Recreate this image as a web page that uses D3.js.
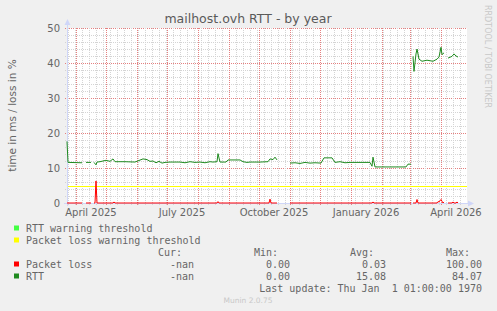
<!DOCTYPE html>
<html>
<head>
<meta charset="utf-8">
<style>
  body { margin: 0; background: #f0f0f0; }
  svg { display: block; }
</style>
</head>
<body>
<svg id="chart" width="497" height="311"></svg>
<script src="https://d3js.org/d3.v7.min.js"></script>
<script>
// time range shown (400 days, munin "by year")
const timeDomain = ["2025-03-23", "2026-04-27"];
const yDomain = [0, 50];
const yTicks = [0, 10, 20, 30, 40, 50];
const monthLabels = ["2025-04-16", "2025-07-16", "2025-10-16", "2026-01-16", "2026-04-16"];
const monthLabelText = ["April 2025", "July 2025", "October 2025", "January 2026", "April 2026"];

// RTT in ms (null = no data)
const rttDates = ["2025-03-23","2025-03-24","2025-04-07","2025-04-08","2025-04-11","2025-04-16","2025-04-17",
  "2025-04-19","2025-04-21","2025-04-22","2025-04-25","2025-05-01","2025-05-05","2025-05-08","2025-05-10",
  "2025-05-20","2025-05-30","2025-06-07","2025-06-11","2025-06-14","2025-06-17","2025-06-20","2025-06-23",
  "2025-06-26","2025-06-29","2025-07-04","2025-07-14","2025-07-19","2025-07-24","2025-07-29","2025-08-03",
  "2025-08-08","2025-08-13","2025-08-16","2025-08-20","2025-08-21","2025-08-23","2025-08-29","2025-08-31",
  "2025-09-12","2025-09-15","2025-09-19","2025-09-22","2025-10-02","2025-10-10","2025-10-12","2025-10-15",
  "2025-10-17","2025-10-19","2025-10-20","2025-11-01","2025-11-06","2025-11-11","2025-11-16","2025-11-21",
  "2025-11-26","2025-12-02","2025-12-05","2025-12-13","2025-12-16","2025-12-21","2025-12-26","2025-12-31",
  "2026-01-10","2026-01-20","2026-01-22","2026-01-23","2026-01-25","2026-01-27","2026-02-25","2026-02-27",
  "2026-03-02","2026-03-03","2026-03-04","2026-03-05","2026-03-07","2026-03-08","2026-03-10","2026-03-13",
  "2026-03-18","2026-03-24","2026-03-28","2026-03-30","2026-04-01","2026-04-02","2026-04-04","2026-04-05",
  "2026-04-08","2026-04-12","2026-04-14","2026-04-16","2026-04-18"];
const rttValues = [17.6,11.6,11.5,null,11.6,11.6,null,
  11.6,10.9,11.7,11.8,12.2,11.9,12.6,11.8,
  11.8,11.7,12.6,12.4,11.9,12.0,11.5,11.9,
  11.4,11.6,11.7,11.7,11.5,11.8,11.6,11.7,
  11.5,11.8,11.7,11.8,14.1,11.7,11.7,12.3,
  12.3,11.8,11.6,11.7,11.7,11.8,12.6,12.4,
  13.1,12.3,null,11.4,11.5,11.3,11.6,11.4,
  11.5,11.4,12.9,12.9,11.6,11.8,11.5,11.6,
  11.6,11.6,10.5,13.1,10.3,10.3,10.3,11.1,
  11.1,null,41.9,37.6,42.6,44.0,41.1,40.5,
  40.8,40.5,41.1,41.7,44.5,42.4,42.9,null,
  41.4,41.9,42.6,42.0,41.7];

// packet loss in %
const lossDates = ["2025-03-23","2025-04-07","2025-04-08","2025-04-11","2025-04-16","2025-04-17","2025-04-19",
  "2025-04-20","2025-04-21","2025-04-22","2025-05-08","2025-05-09","2025-05-10","2025-08-20","2025-08-21",
  "2025-08-22","2025-10-11","2025-10-12","2025-10-13","2025-10-19","2025-10-20","2025-11-01","2026-01-22",
  "2026-01-23","2026-01-24","2026-03-02","2026-03-03","2026-03-04","2026-03-07","2026-03-08","2026-03-09",
  "2026-03-28","2026-03-29","2026-03-30","2026-04-01","2026-04-02","2026-04-03","2026-04-04","2026-04-05",
  "2026-04-08","2026-04-12","2026-04-13","2026-04-14","2026-04-16","2026-04-17","2026-04-18"];
const lossValues = [0,0,null,0,0,null,0,
  0,6.3,0,0,0.3,0,0,0.4,
  0,0,1.1,0,0,null,0,0,
  0.3,0,0,null,0,0,1.0,0,
  0,0.4,0.3,1.0,0.5,0,0.3,null,
  0,0,0.3,0,0,0.3,0];

const lossThreshold = 5;

const legendNames = ["RTT warning threshold", "Packet loss warning threshold"];
const legendColors = ["#44ff44", "#ffff00"];
const statHeaders = ["Cur:", "Min:", "Avg:", "Max:"];
const seriesNames = ["Packet loss", "RTT"];
const seriesColors = ["#ff0000", "#1f8a1f"];
const curValues = ["-nan", "-nan"];
const minValues = ["0.00", "0.00"];
const avgValues = ["0.03", "15.08"];
const maxValues = ["100.00", "84.07"];

const svg = d3.select("#chart");
const parse = d3.utcParse("%Y-%m-%d");
const pLeft = 67, pRight = 467, pTop = 28, pBottom = 203;
const x = d3.scaleUtc().domain(timeDomain.map(parse)).range([pLeft, pRight]);
const y = d3.scaleLinear().domain(yDomain).range([pBottom, pTop]);
const fontColor = "#666666";
const axisColor = "#cfd6f8";
const minorColor = "#d4d4d4";
const majorColor = "#e58080";

svg.append("rect").attr("width", 497).attr("height", 311).attr("fill", "#f0f0f0");
svg.append("rect").attr("x", pLeft).attr("y", pTop).attr("width", pRight - pLeft).attr("height", pBottom - pTop)
  .attr("fill", "#ffffff");

// grid
const g = svg.append("g");
const px = v => Math.round(v) + 0.5;
const minorY = d3.range(yDomain[0], yDomain[1] + 1, 2).filter(v => v % 10 !== 0);
g.selectAll(".hminor").data(minorY).enter().append("line")
  .attr("x1", pLeft - 2).attr("x2", pRight)
  .attr("y1", d => px(y(d))).attr("y2", d => px(y(d)))
  .attr("stroke", minorColor).attr("stroke-dasharray", "1,1");
g.selectAll(".hmajor").data(yTicks).enter().append("line")
  .attr("x1", pLeft - 2).attr("x2", pRight)
  .attr("y1", d => px(y(d))).attr("y2", d => px(y(d)))
  .attr("stroke", majorColor).attr("stroke-dasharray", "1,1");

const [t0, t1] = x.domain();
const months = d3.utcMonth.range(t0, t1);
const weeks = d3.utcMonday.range(t0, t1).filter(d => d.getUTCDate() !== 1);
g.selectAll(".vminor").data(weeks).enter().append("line")
  .attr("x1", d => px(x(d))).attr("x2", d => px(x(d)))
  .attr("y1", pTop).attr("y2", pBottom + 2)
  .attr("stroke", minorColor).attr("stroke-dasharray", "1,1");
g.selectAll(".vmajor").data(months).enter().append("line")
  .attr("x1", d => px(x(d))).attr("x2", d => px(x(d)))
  .attr("y1", pTop).attr("y2", pBottom + 2)
  .attr("stroke", majorColor).attr("stroke-dasharray", "1,1");

// threshold
svg.append("line").attr("x1", pLeft).attr("x2", pRight)
  .attr("y1", px(y(lossThreshold))).attr("y2", px(y(lossThreshold)))
  .attr("stroke", "#ffff00").attr("stroke-width", 1);

// axes
svg.append("line").attr("x1", pLeft + 0.5).attr("x2", pLeft + 0.5).attr("y1", pBottom + 3).attr("y2", pTop - 6)
  .attr("stroke", axisColor);
svg.append("path").attr("d", `M${pLeft - 2.5},${pTop - 3} L${pLeft + 3.5},${pTop - 3} L${pLeft + 0.5},${pTop - 9} Z`)
  .attr("fill", axisColor);
svg.append("line").attr("x1", pLeft - 3).attr("x2", pRight + 3).attr("y1", pBottom + 0.5).attr("y2", pBottom + 0.5)
  .attr("stroke", axisColor);
svg.append("path").attr("d", `M${pRight + 1},${pBottom - 2.5} L${pRight + 1},${pBottom + 3.5} L${pRight + 7},${pBottom + 0.5} Z`)
  .attr("fill", axisColor);

// series
const rtt = rttDates.map((d, i) => ({ t: parse(d), v: rttValues[i] }));
const loss = lossDates.map((d, i) => ({ t: parse(d), v: lossValues[i] }));
const line = d3.line().defined(d => d.v !== null).x(d => x(d.t)).y(d => y(d.v));
svg.append("path").datum(loss).attr("d", line).attr("fill", "none")
  .attr("stroke", seriesColors[0]).attr("stroke-width", 1);
svg.append("path").datum(rtt).attr("d", line).attr("fill", "none")
  .attr("stroke", seriesColors[1]).attr("stroke-width", 1);

// tick labels
svg.selectAll(".ylab").data(yTicks).enter().append("text")
  .attr("x", pLeft - 7).attr("y", d => y(d)).attr("dy", "0.35em")
  .attr("text-anchor", "end").attr("font-family", "DejaVu Sans").attr("font-size", 10)
  .attr("fill", fontColor).text(d => d);
svg.selectAll(".xlab").data(monthLabels).enter().append("text")
  .attr("x", d => x(parse(d))).attr("y", pBottom + 9).attr("dy", "0.35em")
  .attr("text-anchor", "middle").attr("font-family", "DejaVu Sans").attr("font-size", 10)
  .attr("fill", fontColor).text((d, i) => monthLabelText[i]);

// title, y label, watermark
svg.append("text").attr("x", 248).attr("y", 23).attr("text-anchor", "middle")
  .attr("font-family", "DejaVu Sans").attr("font-size", 12.5).attr("fill", "#5a5a5a")
  .text("mailhost.ovh RTT - by year");
svg.append("text").attr("transform", `translate(12,${(pTop + pBottom) / 2}) rotate(-90)`)
  .attr("text-anchor", "middle").attr("dy", "0.35em")
  .attr("font-family", "DejaVu Sans").attr("font-size", 10.5).attr("fill", fontColor)
  .text("time in ms / loss in %");
svg.append("text").attr("transform", "translate(488,5) rotate(90)")
  .attr("dy", "0.35em").attr("font-family", "DejaVu Sans").attr("font-size", 8)
  .attr("fill", "#c8c8c8").text("RRDTOOL / TOBI OETIKER");

// legend
const mono = "DejaVu Sans Mono";
const rowY = [228, 240, 252, 264, 276, 288];
legendNames.forEach((name, i) => {
  svg.append("rect").attr("x", 14).attr("y", rowY[i] - 2.5).attr("width", 5).attr("height", 5)
    .attr("fill", legendColors[i]);
  svg.append("text").attr("x", 26).attr("y", rowY[i]).attr("dy", "0.35em")
    .attr("font-family", mono).attr("font-size", 10).attr("fill", fontColor).text(name);
});
const headerX = [182, 278, 374, 470];
const valueX = [194, 290, 386, 482];
statHeaders.forEach((h, j) => {
  svg.append("text").attr("x", headerX[j]).attr("y", rowY[2]).attr("dy", "0.35em")
    .attr("text-anchor", "end").attr("font-family", mono).attr("font-size", 10)
    .attr("fill", fontColor).text(h);
});
seriesNames.forEach((name, i) => {
  const ry = rowY[3 + i];
  svg.append("rect").attr("x", 14).attr("y", ry - 2.5).attr("width", 5).attr("height", 5)
    .attr("fill", seriesColors[i]);
  svg.append("text").attr("x", 26).attr("y", ry).attr("dy", "0.35em")
    .attr("font-family", mono).attr("font-size", 10).attr("fill", fontColor).text(name);
  [curValues[i], minValues[i], avgValues[i], maxValues[i]].forEach((v, j) => {
    svg.append("text").attr("x", valueX[j]).attr("y", ry).attr("dy", "0.35em")
      .attr("text-anchor", "end").attr("font-family", mono).attr("font-size", 10)
      .attr("fill", fontColor).text(v);
  });
});
svg.append("text").attr("x", 482).attr("y", rowY[5]).attr("dy", "0.35em")
  .attr("text-anchor", "end").attr("font-family", mono).attr("font-size", 10)
  .attr("fill", fontColor).style("white-space", "pre")
  .text("Last update: Thu Jan  1 01:00:00 1970");
svg.append("text").attr("x", 248).attr("y", 300).attr("dy", "0.35em").attr("text-anchor", "middle")
  .attr("font-family", "DejaVu Sans").attr("font-size", 7.5).attr("fill", "#c8c8c8")
  .text("Munin 2.0.75");
</script>
</body>
</html>
